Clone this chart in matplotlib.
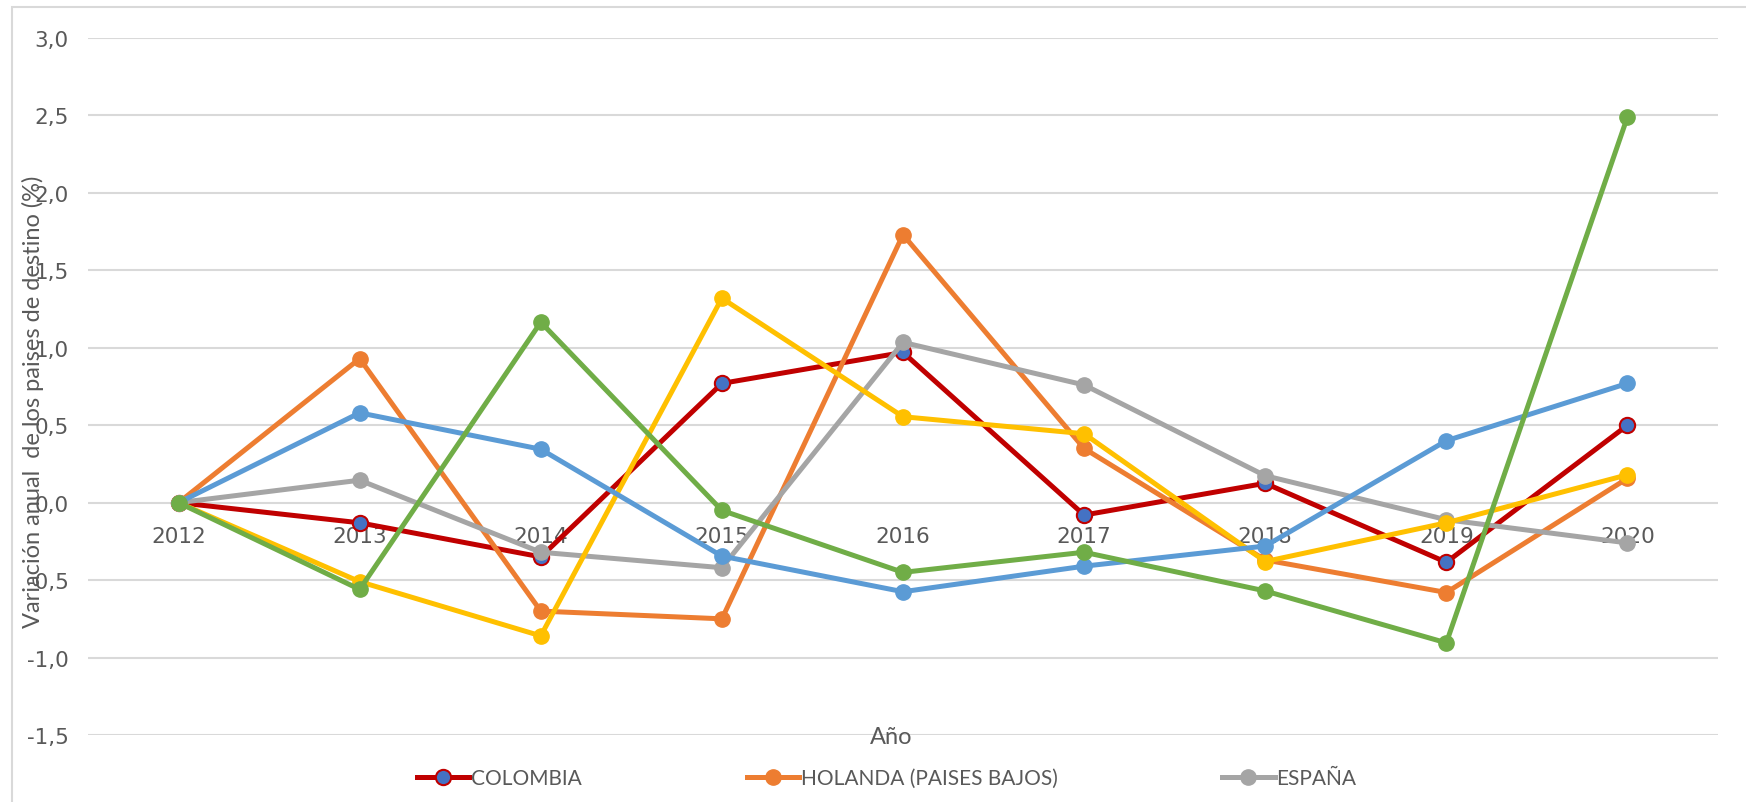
import matplotlib
matplotlib.use('Agg')
import matplotlib.pyplot as plt
from matplotlib.patches import Rectangle

# Datos
anios = ['2012', '2013', '2014', '2015', '2016', '2017', '2018', '2019', '2020']
colombia = [0.0, -0.13, -0.35, 0.77, 0.97, -0.08, 0.125, -0.385, 0.50]
holanda = [0.0, 0.93, -0.70, -0.75, 1.73, 0.35, -0.37, -0.58, 0.157]
espana = [0.0, 0.145, -0.32, -0.42, 1.035, 0.76, 0.174, -0.11, -0.26]
serie_amarilla = [0.0, -0.51, -0.86, 1.32, 0.555, 0.445, -0.38, -0.13, 0.18]
serie_azul = [0.0, 0.58, 0.345, -0.345, -0.575, -0.41, -0.28, 0.40, 0.77]
serie_verde = [0.0, -0.56, 1.165, -0.05, -0.45, -0.32, -0.57, -0.905, 2.49]
y_ticks = [-1.5, -1.0, -0.5, 0.0, 0.5, 1.0, 1.5, 2.0, 2.5, 3.0]

gris_texto = '#595959'
fuente = ['Lato', 'DejaVu Sans']

fig = plt.figure(figsize=(17.46, 8.03), dpi=100)
ax = fig.add_axes([88 / 1746, 67 / 803, (1718 - 88) / 1746, (764 - 67) / 803])

# marco del grafico
fig.patches.append(Rectangle((12 / 1746, -0.05), 1.1, (803 - 8) / 803 + 0.05,
                             transform=fig.transFigure, fill=False,
                             edgecolor='#D9D9D9', linewidth=1.5, zorder=0))

x = list(range(len(anios)))
lw = 3.6
ms = 11
l1, = ax.plot(x, colombia, color='#C00000', lw=lw, marker='o', ms=ms,
              markerfacecolor='#4472C4', markeredgecolor='#C00000',
              markeredgewidth=1.5, label='COLOMBIA', zorder=3)
l2, = ax.plot(x, holanda, color='#ED7D31', lw=lw, marker='o', ms=ms,
              label='HOLANDA (PAISES BAJOS)', zorder=3)
l3, = ax.plot(x, espana, color='#A5A5A5', lw=lw, marker='o', ms=ms,
              label='ESPAÑA', zorder=3)
ax.plot(x, serie_amarilla, color='#FFC000', lw=lw, marker='o', ms=ms, zorder=3)
ax.plot(x, serie_azul, color='#5B9BD5', lw=lw, marker='o', ms=ms, zorder=3)
ax.plot(x, serie_verde, color='#70AD47', lw=lw, marker='o', ms=ms, zorder=3)

ax.set_xlim(-0.5, len(anios) - 0.5)
ax.set_ylim(-1.5, 3.0)
ax.set_yticks(y_ticks)
ax.set_yticklabels([f'{v:.1f}'.replace('.', ',') for v in y_ticks])
ax.grid(axis='y', color='#D9D9D9', linewidth=1.5)
ax.set_axisbelow(True)
for s in ax.spines.values():
    s.set_visible(False)

ax.spines['bottom'].set_position(('data', 0))
ax.set_xticks(x)
ax.set_xticklabels(anios)
ax.tick_params(axis='x', length=0, pad=17, labelsize=15.5, labelcolor=gris_texto)
ax.tick_params(axis='y', length=0, pad=14, labelsize=15.5, labelcolor=gris_texto)

ax.set_ylabel('Variación anual  de los paises de destino (%)', fontsize=17,
              color=gris_texto, family=fuente)
ax.yaxis.set_label_coords(-0.027, 0.48)
fig.text(891 / 1746, 1 - 738 / 803, 'Año', ha='center', va='center',
         fontsize=17, color=gris_texto, family=fuente)

fig.legend(handles=[l1, l2, l3], loc='center', bbox_to_anchor=(0.508, 1 - 779 / 803),
           ncol=3, frameon=False, handlelength=2.5,
           handletextpad=0.1, columnspacing=7.9, labelcolor=gris_texto,
           prop={'family': fuente, 'size': 15})

fig.savefig('out.png', dpi=100)
